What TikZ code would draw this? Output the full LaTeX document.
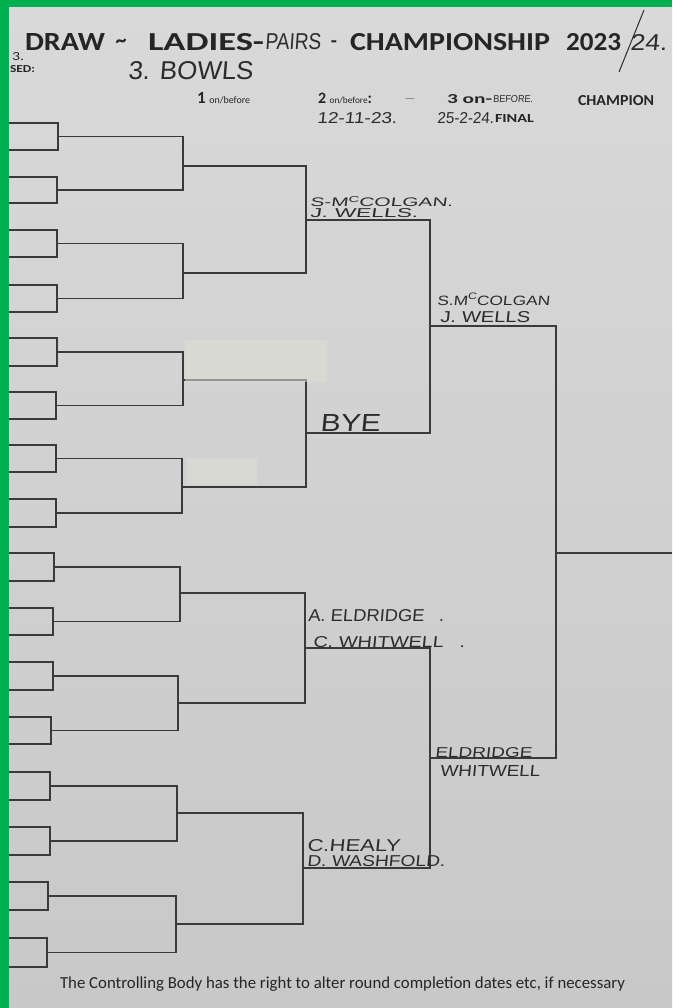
\documentclass[tikz,border=0pt]{standalone}
\usepackage{fontspec}
\setmainfont{Carlito}
\newfontfamily\hand[FakeSlant=0.08]{Liberation Sans}
\usepackage{graphicx}
\definecolor{paperTop}{HTML}{D9D9D9}
\definecolor{paperBot}{HTML}{C8C8C8}
\definecolor{ink}{HTML}{3A3A3A}
\definecolor{printink}{HTML}{252525}
\definecolor{penink}{HTML}{2C2C2C}
\definecolor{frame}{HTML}{00B050}
\definecolor{tape}{HTML}{DEDFD6}
\newcommand{\fitbox}[3]{\resizebox{#1pt}{#2pt}{#3}}
\newcommand{\fitw}[2]{\resizebox{#1pt}{!}{#2}}
\begin{document}
\begin{tikzpicture}[x=1pt,y=-1pt,
  box/.style={draw=ink,line width=1.2pt,inner sep=0pt,outer sep=0pt},
  wire/.style={draw=ink,line width=1.2pt},
  lbl/.style={anchor=base west,inner sep=0pt,outer sep=0pt,text=printink},
  pen/.style={anchor=base west,inner sep=0pt,outer sep=0pt,text=penink,font=\hand},
  tapestyle/.style={fill=tape,fill opacity=0.55,draw=none}]
\useasboundingbox (0,0) rectangle (672,1008);
\shade[top color=paperTop,bottom color=paperBot] (0,0) rectangle (672,1008);

% round 1 boxes
\node[box,minimum width=54pt,minimum height=27pt] (b1) at (31,136.5) {};
\node[box,minimum width=53pt,minimum height=26pt] (b2) at (30.5,190) {};
\node[box,minimum width=53pt,minimum height=27pt] (b3) at (30.5,243.5) {};
\node[box,minimum width=53pt,minimum height=27pt] (b4) at (30.5,298.5) {};
\node[box,minimum width=53pt,minimum height=28pt] (b5) at (30.5,352) {};
\node[box,minimum width=52pt,minimum height=27pt] (b6) at (30,405.5) {};
\node[box,minimum width=52pt,minimum height=27pt] (b7) at (30,458.5) {};
\node[box,minimum width=52pt,minimum height=28pt] (b8) at (30,513) {};
\node[box,minimum width=50pt,minimum height=28pt] (b9) at (29,567) {};
\node[box,minimum width=49pt,minimum height=27pt] (b10) at (28.5,621.5) {};
\node[box,minimum width=49pt,minimum height=28pt] (b11) at (28.5,676) {};
\node[box,minimum width=47pt,minimum height=27pt] (b12) at (27.5,730.5) {};
\node[box,minimum width=46pt,minimum height=28pt] (b13) at (27,786) {};
\node[box,minimum width=46pt,minimum height=28pt] (b14) at (27,841) {};
\node[box,minimum width=44pt,minimum height=28pt] (b15) at (26,896) {};
\node[box,minimum width=43pt,minimum height=29pt] (b16) at (25.5,952.5) {};

% junctions
\coordinate (m1) at (183,166);
\coordinate (m2) at (183,273);
\coordinate (m3) at (183,380);
\coordinate (m4) at (182,487);
\coordinate (m5) at (180,593);
\coordinate (m6) at (178,703);
\coordinate (m7) at (177,813);
\coordinate (m8) at (176,924);
\coordinate (n1) at (306,220);
\coordinate (n2) at (306,433);
\coordinate (n3) at (305,648);
\coordinate (n4) at (303,868);
\coordinate (p1) at (430,326);
\coordinate (p2) at (430,758);
\coordinate (f) at (556,553);
\coordinate (champ) at (672,553);

\draw[wire] (b1.east) -| (m1) |- (b2.east);
\draw[wire] (b3.east) -| (m2) |- (b4.east);
\draw[wire] (b5.east) -| (m3) |- (b6.east);
\draw[wire] (b7.east) -| (m4) |- (b8.east);
\draw[wire] (b9.east) -| (m5) |- (b10.east);
\draw[wire] (b11.east) -| (m6) |- (b12.east);
\draw[wire] (b13.east) -| (m7) |- (b14.east);
\draw[wire] (b15.east) -| (m8) |- (b16.east);
\draw[wire] (m1) -| (n1) |- (m2);
\draw[wire] (m3) -| (n2) |- (m4);
\draw[wire] (m5) -| (n3) |- (m6);
\draw[wire] (m7) -| (n4) |- (m8);
\draw[wire] (n1) -| (p1) |- (n2);
\draw[wire] (n3) -| (p2) |- (n4);
\draw[wire] (p1) -| (f) |- (p2);
\draw[wire] (f) -- (champ);

% tape patches
\fill[tapestyle] (185,340) rectangle (327,382);
\fill[tapestyle] (187,458) rectangle (257,485);

% title
\node[lbl] (t1) at (25,51) {\fitbox{80}{17}{\bfseries DRAW}};
\node[inner sep=0pt,text=printink] (t2) at (121,43) {\fontsize{22}{22}\selectfont\bfseries\textasciitilde};
\node[lbl] (t3) at (148,51) {\fitbox{116}{17}{\bfseries LADIES-}};
\node[pen] (t4) at (265,50) {\fitbox{56}{16}{PAIRS}};
\node[inner sep=0pt,text=printink] (t5) at (334,44) {\fontsize{20}{20}\selectfont\bfseries -};
\node[lbl] (t6) at (350,51) {\fitbox{200}{17}{\bfseries CHAMPIONSHIP}};
\node[lbl] (t7) at (566,51) {\fitbox{55}{17}{\bfseries 2023}};
\node[pen] (t8) at (630,51) {\fitbox{37}{16}{24.}};
\draw[penink,line width=1pt] (644,10) -- (619,72);

\node[lbl] (t9) at (12,61) {\fitbox{12}{8}{3.}};
\node[lbl] (t10) at (10,73) {\fitbox{25}{7}{\bfseries SED:}};
\node[pen] (t11) at (128,80) {\fitbox{125}{18}{3. BOWLS}};

% round headers
\node[lbl] (t12) at (197,104) {\fitw{53}{\fontsize{12}{12}\selectfont\textbf{1} {\fontsize{7}{7}\selectfont on/before}}};
\node[lbl] (t13) at (318,104) {\fitw{54}{\fontsize{12}{12}\selectfont\textbf{2} {\fontsize{7}{7}\selectfont on/before}\textbf{:}}};
\node[pen] (t14) at (403,101) {\fitbox{12}{1.5}{-}};
\node[lbl] (t15) at (447,104) {\fitbox{45}{9}{\bfseries 3 on-}};
\node[pen] (t15b) at (493,103) {\fitbox{40}{7}{BEFORE.}};
\node[lbl] (t16) at (578,106) {\fitbox{76}{10}{\bfseries CHAMPION}};
\node[pen] (t17) at (317,124) {\fitbox{80}{11}{12-11-23.}};
\node[pen] (t18) at (437,124) {\fitbox{57}{11}{25-2-24.}};
\node[lbl] (t19) at (495,123) {\fitbox{39}{8}{\bfseries FINAL}};

% names
\node[pen] (w1) at (310,207) {\fitbox{143}{11}{S-M\raisebox{4pt}{\scriptsize C}COLGAN.}};
\node[pen] (w2) at (310,218) {\fitbox{108}{9}{J. WELLS.}};
\node[pen] (w3) at (437,305) {\fitbox{113}{12}{S.M\raisebox{4pt}{\scriptsize C}COLGAN}};
\node[pen] (w4) at (440,322) {\fitbox{90}{11}{J. WELLS}};
\node[pen] (w5) at (320,431) {\fitbox{60}{17}{BYE}};
\node[pen] (w6) at (308,621) {\fitbox{136}{12}{A. ELDRIDGE\hspace{8pt}.}};
\node[pen] (w7) at (313,647) {\fitbox{152}{11}{C. WHITWELL\hspace{8pt}.}};
\node[pen] (w8) at (435,757) {\fitbox{97}{10}{ELDRIDGE}};
\node[pen] (w9) at (440,776) {\fitbox{100}{11}{WHITWELL}};
\node[pen] (w10) at (307,851) {\fitbox{93}{12}{C.HEALY}};
\node[pen] (w11) at (307,866) {\fitbox{138}{11}{D. WASHFOLD.}};

% footer
\node[lbl] (ft) at (60,988) {\fitw{565}{\fontsize{14}{14}\selectfont The Controlling Body has the right to alter round completion dates etc, if necessary}};

% green frame
\fill[frame] (0,0) rectangle (672,7);
\fill[frame] (0,0) rectangle (9,1008);
\end{tikzpicture}
\end{document}
